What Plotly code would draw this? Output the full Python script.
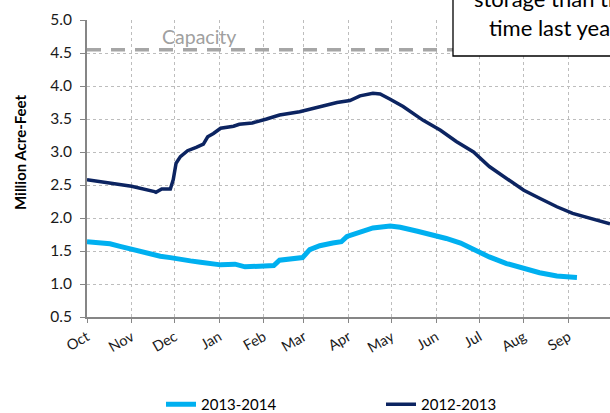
import plotly.graph_objects as go

# ---- data ----
dates_1314 = ["2013-10-01", "2013-10-10", "2013-10-17", "2013-10-24", "2013-10-31", "2013-11-07",
              "2013-11-14", "2013-11-21", "2013-11-28", "2013-12-05", "2013-12-12", "2013-12-19",
              "2013-12-26", "2014-01-02", "2014-01-12", "2014-01-19", "2014-01-29", "2014-02-05",
              "2014-02-08", "2014-02-12", "2014-02-22", "2014-02-28", "2014-03-05", "2014-03-12",
              "2014-03-21", "2014-03-27", "2014-03-31", "2014-04-09", "2014-04-18", "2014-04-30",
              "2014-05-07", "2014-05-19", "2014-05-30", "2014-06-08", "2014-06-18", "2014-06-27",
              "2014-07-08", "2014-07-20", "2014-08-01", "2014-08-12", "2014-08-24", "2014-09-07"]
storage_1314 = [1.64, 1.62, 1.61, 1.57, 1.53, 1.49,
                1.45, 1.42, 1.40, 1.37, 1.35, 1.33,
                1.31, 1.29, 1.30, 1.26, 1.27, 1.27,
                1.28, 1.36, 1.39, 1.40, 1.52, 1.58,
                1.62, 1.64, 1.72, 1.79, 1.85, 1.88,
                1.86, 1.80, 1.75, 1.69, 1.62, 1.52,
                1.41, 1.31, 1.24, 1.17, 1.12, 1.10]

dates_1213 = ["2013-10-01", "2013-11-01", "2013-11-17", "2013-11-18", "2013-11-22", "2013-11-28",
              "2013-11-30", "2013-12-02", "2013-12-05", "2013-12-10", "2013-12-16", "2013-12-21",
              "2013-12-24", "2013-12-28", "2014-01-02", "2014-01-11", "2014-01-15", "2014-01-24",
              "2014-02-03", "2014-02-12", "2014-02-26", "2014-03-12", "2014-03-24", "2014-04-02",
              "2014-04-09", "2014-04-18", "2014-04-23", "2014-04-30", "2014-05-09", "2014-05-23",
              "2014-06-04", "2014-06-15", "2014-06-27", "2014-07-08", "2014-07-20", "2014-08-01",
              "2014-08-12", "2014-08-24", "2014-09-04", "2014-09-16", "2014-09-30"]
storage_1213 = [2.58, 2.48, 2.40, 2.39, 2.44, 2.44,
                2.58, 2.83, 2.93, 3.02, 3.07, 3.12,
                3.23, 3.28, 3.36, 3.39, 3.42, 3.44,
                3.50, 3.56, 3.61, 3.69, 3.75, 3.78,
                3.85, 3.89, 3.88, 3.80, 3.69, 3.48,
                3.33, 3.16, 3.00, 2.78, 2.60, 2.42,
                2.30, 2.17, 2.07, 2.00, 1.91]

capacity_dates = ["2013-10-01", "2014-09-30"]
capacity_value = [4.55, 4.55]

month_ticks = ["2013-10-01", "2013-11-01", "2013-12-01", "2014-01-01", "2014-02-01", "2014-03-01",
               "2014-04-01", "2014-05-01", "2014-06-01", "2014-07-01", "2014-08-01", "2014-09-01"]
month_labels = ["Oct", "Nov", "Dec", "Jan", "Feb", "Mar", "Apr", "May", "Jun", "Jul", "Aug", "Sep"]

FONT = "Lato"
L, T, W, H = 87, 20, 523, 297   # plot area in pixels


def px(xp):
    return (xp - L) / W


def py(yp):
    return (T + H - yp) / H


fig = go.Figure()
fig.add_trace(go.Scatter(x=capacity_dates, y=capacity_value, mode="lines", showlegend=False,
                         line=dict(color="#A6A6A6", width=3.5, dash="14px,10px"), hoverinfo="skip"))
fig.add_trace(go.Scatter(x=dates_1314, y=storage_1314, mode="lines", name="2013-2014",
                         line=dict(color="#00B0F0", width=5)))
fig.add_trace(go.Scatter(x=dates_1213, y=storage_1213, mode="lines", name="2012-2013",
                         line=dict(color="#0C2461", width=3.5)))

fig.update_layout(
    width=610, height=413,
    margin=dict(l=L, r=610 - L - W, t=T, b=413 - T - H, autoexpand=False),
    paper_bgcolor="white", plot_bgcolor="white",
    font=dict(family=FONT, color="#1a1a1a", size=15),
    showlegend=True,
    legend=dict(orientation="h", x=px(161), xanchor="left", y=py(404.5), yanchor="middle",
                font=dict(size=15, color="#000000"), entrywidth=175, entrywidthmode="pixels",
                bgcolor="rgba(0,0,0,0)", borderwidth=0),
    xaxis=dict(type="date", range=["2013-10-01", "2014-09-30"],
               tickmode="array", tickvals=month_ticks, ticktext=month_labels,
               tickangle=-30, tickfont=dict(size=14.5, color="#1a1a1a"),
               showgrid=True, gridcolor="#BDBDBD", griddash="dot", gridwidth=1,
               showline=True, linecolor="#868686", linewidth=2,
               ticks="outside", ticklen=4, tickcolor="#868686", zeroline=False),
    yaxis=dict(range=[0.5, 5.0], dtick=0.5, tick0=0.5, tickformat=".1f",
               tickfont=dict(size=15.5, color="#1a1a1a"),
               showgrid=True, gridcolor="#BDBDBD", griddash="dot", gridwidth=1,
               showline=True, linecolor="#868686", linewidth=2,
               ticks="outside", ticklen=5, tickcolor="#868686", zeroline=False,
               ticklabelstandoff=5),
)

# y-axis title
fig.add_annotation(text="<b>Million Acre-Feet</b>", xref="paper", yref="paper",
                   x=px(20), y=py(152), textangle=-90, showarrow=False,
                   font=dict(size=15, color="#000000"), xanchor="center", yanchor="middle")

# capacity label
fig.add_annotation(text="Capacity", xref="paper", yref="paper",
                   x=px(199), y=py(37), showarrow=False,
                   font=dict(size=19.5, color="#A0A0A0"), xanchor="center", yanchor="middle")

# text box (partially outside the view)
fig.add_shape(type="rect", xref="paper", yref="paper",
              x0=px(453), x1=px(700), y0=py(56), y1=py(-40),
              line=dict(color="#000000", width=1.3), fillcolor="white", layer="above")
fig.add_annotation(text="storage than the same", xref="paper", yref="paper",
                   x=px(472), y=py(-1), showarrow=False,
                   font=dict(size=22, color="#000000"), xanchor="left", yanchor="middle")
fig.add_annotation(text="time last year.", xref="paper", yref="paper",
                   x=px(487), y=py(27), showarrow=False,
                   font=dict(size=22, color="#000000"), xanchor="left", yanchor="middle")

fig.write_html("out.html", config={"displayModeBar": False},
               post_script="document.body.style.margin='0';document.body.style.overflow='hidden';")
